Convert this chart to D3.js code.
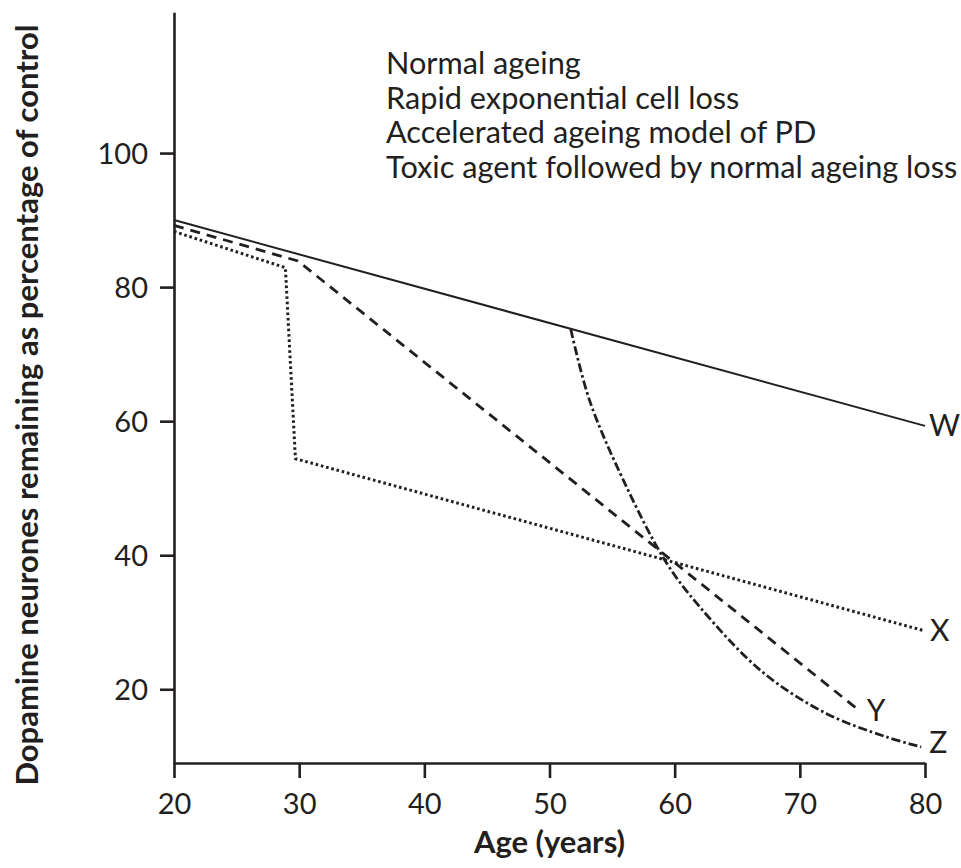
<!DOCTYPE html>
<html>
<head>
<meta charset="utf-8">
<script src="https://cdn.jsdelivr.net/npm/d3@7"></script>
<style>
  html, body { margin: 0; padding: 0; background: #fff; }
  svg { display: block; }
  text { font-family: Lato, "Open Sans", sans-serif; fill: #231f20; }
</style>
</head>
<body>
<svg id="chart" width="961" height="868"></svg>
<script>
// ---- Data ----
const xTicks = [20, 30, 40, 50, 60, 70, 80];
const yTicks = [20, 40, 60, 80, 100];
const legendLabels = [
  "Normal ageing",
  "Rapid exponential cell loss",
  "Accelerated ageing model of PD",
  "Toxic agent followed by normal ageing loss"
];
const wAges = [20, 80];
const wValues = [90, 59.3];
const xAges = [20, 28.9, 29.7, 80];
const xValues = [88.3, 82.9, 54.4, 28.7];
const yAges = [20, 29.9, 74.7];
const yValues = [89.2, 83.9, 16.9];
const zAges = [51.7, 53.2, 55.9, 59.3, 62.0, 67.0, 72.1, 76.9, 79.7];
const zValues = [73.7, 63.1, 51.2, 39.0, 32.3, 22.6, 16.4, 12.9, 11.4];
const endLabels = ["W", "X", "Y", "Z"];

// ---- Layout ----
const svg = d3.select("#chart");
const ink = "#231f20";
const x = d3.scaleLinear().domain([20, 80]).range([174, 925]);
const y = d3.scaleLinear().domain([9, 121]).range([763, 12.3]);

// axes
const xAxis = svg.append("g").attr("transform", `translate(0,${y(9)})`)
  .call(d3.axisBottom(x).tickValues(xTicks).tickSize(15).tickPadding(11).tickSizeOuter(0));
const yAxis = svg.append("g").attr("transform", `translate(${x(20)},0)`)
  .call(d3.axisLeft(y).tickValues(yTicks).tickSize(14).tickPadding(12).tickSizeOuter(0));
[xAxis, yAxis].forEach(g => {
  g.select(".domain").attr("stroke", ink).attr("stroke-width", 2.6);
  g.selectAll(".tick line").attr("stroke", ink).attr("stroke-width", 2.6);
  g.selectAll(".tick text").attr("fill", ink).style("font-size", "29px")
    .style("font-family", "Lato, 'Open Sans', sans-serif");
});
xAxis.selectAll(".tick text").attr("dy", "0.85em");
yAxis.selectAll(".tick text").attr("dy", "0.36em");

// lines
const mk = (ages, vals) => ages.map((a, i) => [a, vals[i]]);
const line = d3.line().x(d => x(d[0])).y(d => y(d[1]));
const curve = d3.line().x(d => x(d[0])).y(d => y(d[1])).curve(d3.curveCatmullRom.alpha(0.5));

const series = [
  { data: mk(wAges, wValues), gen: line, dash: null, w: 2 },
  { data: mk(xAges, xValues), gen: line, dash: "2.6,2.8", w: 3 },
  { data: mk(yAges, yValues), gen: line, dash: "10,7", w: 2.8 },
  { data: mk(zAges, zValues), gen: curve, dash: "9,3,2.6,3", w: 2.8 }
];
series.forEach(s => {
  svg.append("path").attr("d", s.gen(s.data)).attr("fill", "none")
    .attr("stroke", ink).attr("stroke-width", s.w)
    .attr("stroke-dasharray", s.dash);
});

// end labels
const labelOffsets = [[4, 10], [5, 10], [8, 11], [8, 6]];
series.forEach((s, i) => {
  const last = s.data[s.data.length - 1];
  svg.append("text").attr("x", x(last[0]) + labelOffsets[i][0])
    .attr("y", y(last[1]) + labelOffsets[i][1])
    .style("font-size", "30px").text(endLabels[i]);
});

// legend text
legendLabels.forEach((t, i) => {
  svg.append("text").attr("x", 386).attr("y", 74 + i * 34.5)
    .style("font-size", "30.7px").text(t);
});

// axis titles
svg.append("text").attr("x", x(50)).attr("y", 853).attr("text-anchor", "middle")
  .style("font-size", "31px").style("font-weight", "bold").text("Age (years)");
svg.append("text").attr("transform", `translate(38,${y(62.4)}) rotate(-90)`)
  .attr("text-anchor", "middle")
  .style("font-size", "31px").style("font-weight", "bold")
  .text("Dopamine neurones remaining as percentage of control");
</script>
</body>
</html>
